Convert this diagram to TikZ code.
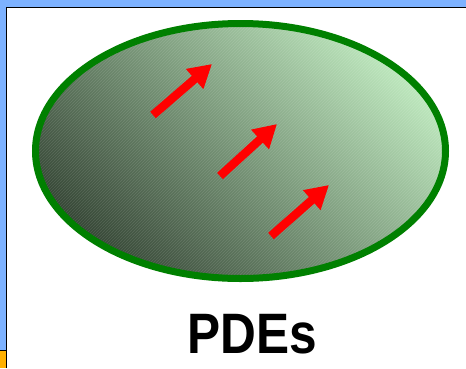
\documentclass[tikz,border=0pt]{standalone}
\usepackage{fontspec}
\setmainfont{Liberation Sans}
\usetikzlibrary{arrows.meta,patterns}
\definecolor{bandblue}{RGB}{125,178,255}
\definecolor{bandorange}{RGB}{255,176,0}
\definecolor{ringgreen}{RGB}{0,128,0}
\definecolor{darkfill}{RGB}{55,72,55}
\definecolor{lightfill}{RGB}{188,230,188}
\tikzset{
  redarrow/.style={draw=red, line width=8.5pt, line cap=butt,
    -{Triangle[length=23pt,width=25pt]}},
  label/.style={font=\bfseries\fontsize{57}{57}\selectfont, inner sep=0pt}
}
\begin{document}
\begin{tikzpicture}[x=1pt,y=-1pt]
\useasboundingbox (0,0) rectangle (466,368);
\fill[white] (0,0) rectangle (466,368);
% border bands
\fill[bandblue] (0,0) rectangle (466,7);
\fill[bandblue] (0,0) rectangle (6,351);
\fill[bandorange] (0,351) rectangle (6,368);
\draw[black, line width=1.5pt] (6.5,368) -- (6.5,7.5) -- (466,7.5);
\draw[black, line width=1.2pt] (0,350.6) -- (6.5,350.6);
% ellipse
\coordinate (c) at (240.5,151);
\shade[top color=lightfill, bottom color=darkfill, shading angle=-45]
  (c) ellipse [x radius=205, y radius=127.5];
\fill[pattern=north east lines, pattern color=white, opacity=0.12]
  (c) ellipse [x radius=205, y radius=127.5];
\draw[ringgreen, line width=7pt] (c) ellipse [x radius=205, y radius=127.5];
% arrows
\coordinate (a1) at (153,115); \coordinate (b1) at (212,64);
\coordinate (a2) at (220,176); \coordinate (b2) at (277,124);
\coordinate (a3) at (271,236); \coordinate (b3) at (329,185);
\draw[redarrow] (a1) -- (b1);
\draw[redarrow] (a2) -- (b2);
\draw[redarrow] (a3) -- (b3);
% label
\node[label, anchor=base] (t) at (252,353) {\scalebox{0.87}[1]{PDEs}};
\end{tikzpicture}
\end{document}
